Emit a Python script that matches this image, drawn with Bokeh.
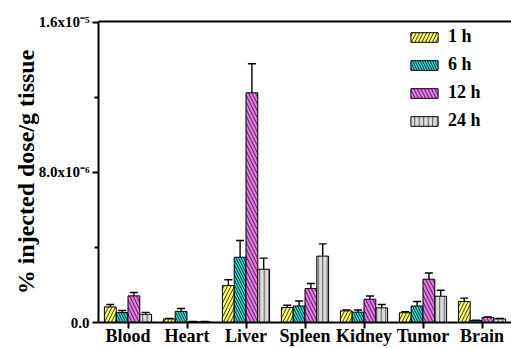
from bokeh.plotting import figure
from bokeh.models import (FactorRange, Range1d, FixedTicker, LinearAxis, Whisker,
                          ColumnDataSource, Legend, LegendItem)
from bokeh.transform import dodge
from bokeh.embed import file_html
from bokeh.resources import INLINE

organs = ["Blood", "Heart", "Liver", "Spleen", "Kidney", "Tumor", "Brain"]
times = ["1 h", "6 h", "12 h", "24 h"]

v_1h = [0.83e-6, 0.19e-6, 1.97e-6, 0.80e-6, 0.62e-6, 0.52e-6, 1.12e-6]
v_6h = [0.53e-6, 0.59e-6, 3.48e-6, 0.88e-6, 0.55e-6, 0.88e-6, 0.10e-6]
v_12h = [1.42e-6, 0.03e-6, 12.25e-6, 1.81e-6, 1.24e-6, 2.31e-6, 0.27e-6]
v_24h = [0.44e-6, 0.03e-6, 2.84e-6, 3.54e-6, 0.78e-6, 1.40e-6, 0.19e-6]

e_1h = [0.13e-6, 0.03e-6, 0.31e-6, 0.12e-6, 0.05e-6, 0.05e-6, 0.18e-6]
e_6h = [0.11e-6, 0.16e-6, 0.89e-6, 0.27e-6, 0.12e-6, 0.24e-6, 0.02e-6]
e_12h = [0.18e-6, 0.02e-6, 1.55e-6, 0.27e-6, 0.17e-6, 0.33e-6, 0.03e-6]
e_24h = [0.10e-6, 0.02e-6, 0.59e-6, 0.65e-6, 0.18e-6, 0.32e-6, 0.03e-6]

y_ticks = [0.0, 8.0e-6, 1.6e-5]
y_tick_labels = ["0.0", "8.0x10\u207b\u2076", "1.6x10\u207b\u2075"]
y_minor = [4.0e-6, 1.2e-5]

series = [v_1h, v_6h, v_12h, v_24h]
errors = [e_1h, e_6h, e_12h, e_24h]
fills = ["#FFFF66", "#30E4E4", "#F070F0", "#DCDCDC"]
hatches = ["/", "\\", "\\", "|"]
hatch_scales = [7, 5, 7, 4.5]
hatch_colors = ["#333333", "#222222", "#333333", "#555555"]
offsets = [-0.3, -0.1, 0.1, 0.3]

FONT = "Liberation Serif"

p = figure(x_range=FactorRange(*organs, start=-0.08, end=6.98),
           y_range=Range1d(0, 1.605e-5),
           width=511, height=348, output_backend="svg", toolbar_location=None,
           min_border_left=98, min_border_right=0, min_border_top=21,
           min_border_bottom=0)
p.outline_line_color = None
p.grid.grid_line_color = None
p.background_fill_color = "white"

data = {"organ": organs}
for i in range(4):
    data[f"v{i}"] = series[i]
    data[f"lo{i}"] = [v - e for v, e in zip(series[i], errors[i])]
    data[f"hi{i}"] = [v + e for v, e in zip(series[i], errors[i])]
src = ColumnDataSource(data)

items = []
for i in range(4):
    r = p.vbar(x=dodge("organ", offsets[i], range=p.x_range), top=f"v{i}", width=0.2,
               source=src, fill_color=fills[i], line_color="black", line_width=1,
               hatch_pattern=hatches[i], hatch_color=hatch_colors[i],
               hatch_scale=hatch_scales[i], hatch_weight=1)
    items.append(LegendItem(label=times[i], renderers=[r]))

for i in range(4):
    w = Whisker(base=dodge("organ", offsets[i], range=p.x_range), lower=f"lo{i}",
                upper=f"hi{i}", source=src, line_color="black", line_width=1.4)
    w.upper_head.size = 8
    w.lower_head.size = 8
    w.upper_head.line_width = 1.4
    w.lower_head.line_width = 1.4
    p.add_layout(w)

xa = p.xaxis[0]
xa.axis_line_width = 2
xa.major_tick_line_width = 2
xa.major_tick_out = 6
xa.major_tick_in = 0
xa.major_label_text_font = FONT
xa.major_label_text_font_style = "bold"
xa.major_label_text_font_size = "18px"
xa.major_label_text_color = "black"
xa.major_label_standoff = -3

ya = p.yaxis[0]
ya.ticker = FixedTicker(ticks=y_ticks, minor_ticks=y_minor)
ya.major_label_overrides = {t: l for t, l in zip(y_ticks, y_tick_labels)}
ya.axis_line_width = 2
ya.major_tick_line_width = 2
ya.minor_tick_line_width = 2
ya.major_tick_out = 6
ya.major_tick_in = 0
ya.minor_tick_out = 4
ya.minor_tick_in = 0
ya.major_label_text_font = FONT
ya.major_label_text_font_style = "bold"
ya.major_label_text_font_size = "15px"
ya.major_label_text_color = "black"
ya.major_label_standoff = 3
ya.axis_label = "% injected dose/g tissue"
ya.axis_label_text_font = FONT
ya.axis_label_text_font_style = "bold"
ya.axis_label_text_font_size = "24px"
ya.axis_label_text_color = "black"
ya.axis_label_standoff = -3

top_axis = LinearAxis(ticker=FixedTicker(ticks=[], minor_ticks=[]),
                      major_tick_line_color=None, minor_tick_line_color=None,
                      axis_line_width=2)
p.add_layout(top_axis, "above")

legend = Legend(items=items, location=(309, 191), border_line_color=None,
                background_fill_alpha=0, padding=0, margin=0,
                glyph_width=34, glyph_height=12, label_height=20, spacing=7,
                label_standoff=7, label_text_font=FONT, label_text_font_style="bold",
                label_text_font_size="18px", label_text_color="black")
p.add_layout(legend)

open("out.html", "w").write(file_html(p, INLINE))
